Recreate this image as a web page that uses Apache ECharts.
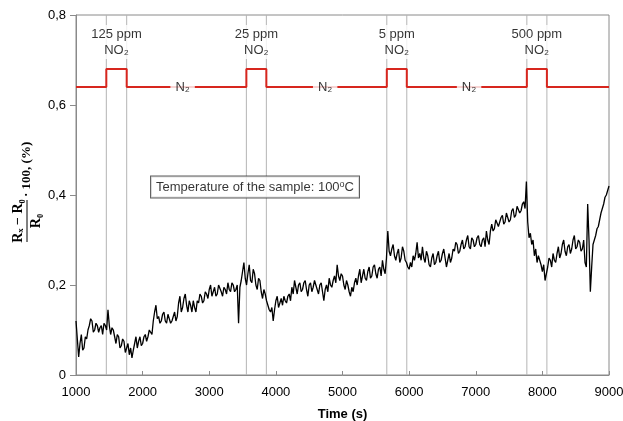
<!DOCTYPE html>
<html>
<head>
<meta charset="utf-8">
<script src="https://cdn.jsdelivr.net/npm/echarts@6/dist/echarts.min.js"></script>
<style>
  html, body { margin: 0; padding: 0; background: #fff; }
  #chart { width: 623px; height: 421px; }
</style>
</head>
<body>
<div id="chart"></div>
<script>
// time axis of the sensor trace, 20 s steps
const time = [];
for (let t = 1000; t <= 9000; t += 20) time.push(t);

// relative resistance change (%), one row per 1000 s
const signal = [
  0.12, 0.08, 0.04, 0.07, 0.09, 0.055, 0.06, 0.085, 0.08, 0.1, 0.11, 0.125, 0.12, 0.095, 0.10, 0.115, 0.11, 0.095, 0.105, 0.11, 0.09, 0.115, 0.11, 0.1, 0.145, 0.11, 0.09, 0.105, 0.10, 0.085, 0.07, 0.09, 0.085, 0.06, 0.065, 0.08, 0.075, 0.05, 0.06, 0.07, 0.045, 0.06, 0.038, 0.055, 0.07, 0.085, 0.06, 0.075, 0.085, 0.065,
  0.07, 0.085, 0.09, 0.075, 0.085, 0.1, 0.10, 0.09, 0.12, 0.14, 0.155, 0.125, 0.13, 0.115, 0.12, 0.135, 0.14, 0.12, 0.115, 0.135, 0.125, 0.115, 0.12, 0.13, 0.14, 0.12, 0.13, 0.16, 0.175, 0.14, 0.15, 0.17, 0.18, 0.155, 0.14, 0.165, 0.155, 0.14, 0.165, 0.15, 0.14, 0.165, 0.16, 0.18, 0.175, 0.16, 0.165, 0.185, 0.18, 0.17,
  0.19, 0.2, 0.175, 0.185, 0.195, 0.175, 0.18, 0.2, 0.20, 0.185, 0.175, 0.195, 0.19, 0.18, 0.205, 0.19, 0.185, 0.205, 0.20, 0.185, 0.19, 0.2, 0.115, 0.195, 0.21, 0.23, 0.25, 0.215, 0.20, 0.225, 0.245, 0.21, 0.205, 0.235, 0.225, 0.2, 0.19, 0.215, 0.21, 0.185, 0.17, 0.19, 0.18, 0.165, 0.155, 0.145, 0.14, 0.15, 0.12, 0.145,
  0.165, 0.175, 0.15, 0.16, 0.17, 0.155, 0.175, 0.165, 0.16, 0.175, 0.18, 0.165, 0.195, 0.18, 0.21, 0.195, 0.18, 0.2, 0.205, 0.185, 0.19, 0.205, 0.21, 0.19, 0.175, 0.2, 0.205, 0.185, 0.195, 0.21, 0.21, 0.19, 0.18, 0.2, 0.205, 0.185, 0.165, 0.19, 0.20, 0.185, 0.215, 0.2, 0.195, 0.21, 0.22, 0.205, 0.245, 0.22, 0.21, 0.225,
  0.22, 0.2, 0.19, 0.21, 0.20, 0.185, 0.175, 0.195, 0.185, 0.205, 0.215, 0.2, 0.22, 0.235, 0.205, 0.22, 0.235, 0.215, 0.21, 0.23, 0.24, 0.215, 0.22, 0.24, 0.245, 0.225, 0.215, 0.235, 0.24, 0.22, 0.255, 0.235, 0.225, 0.26, 0.32, 0.275, 0.265, 0.28, 0.29, 0.265, 0.255, 0.27, 0.28, 0.25, 0.26, 0.285, 0.275, 0.255, 0.25, 0.24,
  0.235, 0.25, 0.24, 0.265, 0.255, 0.27, 0.295, 0.26, 0.27, 0.255, 0.285, 0.26, 0.25, 0.275, 0.265, 0.245, 0.24, 0.26, 0.27, 0.245, 0.25, 0.265, 0.275, 0.25, 0.255, 0.27, 0.28, 0.26, 0.24, 0.255, 0.27, 0.25, 0.26, 0.28, 0.275, 0.295, 0.29, 0.27, 0.275, 0.29, 0.30, 0.28, 0.285, 0.3, 0.31, 0.285, 0.28, 0.305, 0.30, 0.285,
  0.29, 0.305, 0.31, 0.29, 0.285, 0.3, 0.305, 0.285, 0.32, 0.3, 0.29, 0.32, 0.335, 0.32, 0.325, 0.345, 0.345, 0.33, 0.33, 0.35, 0.355, 0.335, 0.34, 0.36, 0.36, 0.34, 0.345, 0.365, 0.37, 0.35, 0.355, 0.375, 0.375, 0.36, 0.365, 0.38, 0.385, 0.37, 0.43, 0.34, 0.305, 0.315, 0.29, 0.3, 0.265, 0.28, 0.25, 0.265, 0.255, 0.245,
  0.23, 0.245, 0.21, 0.225, 0.24, 0.26, 0.255, 0.24, 0.27, 0.255, 0.25, 0.27, 0.285, 0.26, 0.27, 0.29, 0.30, 0.275, 0.265, 0.285, 0.29, 0.27, 0.28, 0.3, 0.31, 0.28, 0.285, 0.3, 0.295, 0.275, 0.28, 0.3, 0.25, 0.24, 0.38, 0.3, 0.185, 0.24, 0.29, 0.3, 0.31, 0.325, 0.33, 0.345, 0.36, 0.37, 0.38, 0.395, 0.40, 0.41,
  0.42
];

// gas switching: NO2 pulses over an N2 baseline
const pulseStart = [1455, 3557, 5665, 7767];
const pulseEnd = [1761, 3857, 5965, 8068];
const concentrations = ["125 ppm", "25 ppm", "5 ppm", "500 ppm"];
const flowBase = 0.64;
const flowHigh = 0.68;
const n2Labels = [2600, 4740, 6900];

const flowData = [[1000, flowBase]];
pulseStart.forEach((s, i) => {
  flowData.push([s, flowBase], [s, flowHigh], [pulseEnd[i], flowHigh], [pulseEnd[i], flowBase]);
});
flowData.push([9000, flowBase]);

// gray guide lines at each switching time, broken apart with "-"
const guideData = [];
pulseStart.concat(pulseEnd).forEach((x) => {
  guideData.push([x, 0], [x, 0.8], "-");
});

const font = "Liberation Sans, Arial, sans-serif";
const textColor = "#000";

const chart = echarts.init(document.getElementById("chart"), null, { renderer: "canvas" });

chart.setOption({
  animation: false,
  backgroundColor: "#fff",
  grid: {
    left: 76, right: 14, top: 15, bottom: 46,
    containLabel: false, outerBoundsMode: "none",
    show: true, borderColor: "#8a8a8a", borderWidth: 1,
  },
  xAxis: {
    type: "value",
    min: 1000,
    max: 9000,
    interval: 1000,
    name: "Time (s)",
    nameLocation: "middle",
    nameGap: 33,
    nameTextStyle: { fontFamily: font, fontSize: 13, fontWeight: "bold", color: textColor },
    axisLine: { lineStyle: { color: "#8a8a8a" } },
    axisTick: { inside: true, length: 4, lineStyle: { color: "#8a8a8a" } },
    axisLabel: { fontFamily: font, fontSize: 13, color: textColor, margin: 11, formatter: (v) => String(v) },
    splitLine: { show: false },
  },
  yAxis: {
    type: "value",
    min: 0,
    max: 0.8,
    interval: 0.2,
    axisLine: { show: true, lineStyle: { color: "#8a8a8a" } },
    axisTick: { show: true, length: 6, lineStyle: { color: "#8a8a8a" } },
    axisLabel: {
      fontFamily: font,
      fontSize: 13,
      color: textColor,
      margin: 10,
      formatter: (v) => (v === 0 ? "0" : v.toFixed(1).replace(".", ",")),
    },
    splitLine: { show: false },
  },
  series: [
    {
      name: "guides",
      type: "line",
      z: 1,
      silent: true,
      symbol: "none",
      connectNulls: false,
      data: guideData,
      lineStyle: { color: "#b4b4b4", width: 1 },
    },
    {
      name: "signal",
      type: "line",
      z: 2,
      symbol: "none",
      data: time.map((t, i) => [t, signal[i]]),
      lineStyle: { color: "#000", width: 1.3 },
    },
    {
      name: "flow",
      type: "line",
      z: 3,
      symbol: "none",
      data: flowData,
      lineStyle: { color: "#d7261e", width: 2 },
    },
    {
      name: "n2",
      type: "scatter",
      z: 5,
      symbolSize: 0,
      data: n2Labels.map((x) => [x, flowBase]),
      label: {
        show: true,
        position: "inside",
        formatter: "N₂",
        fontFamily: font,
        fontSize: 13,
        color: textColor,
        textBorderWidth: 0,
        backgroundColor: "#fff",
        padding: [2, 5],
      },
    },
    {
      name: "gas",
      type: "scatter",
      z: 5,
      symbolSize: 0,
      data: pulseStart.map((s, i) => [(s + pulseEnd[i]) / 2, 0.74]),
      label: {
        show: true,
        position: "inside",
        formatter: (p) => concentrations[p.dataIndex] + "\nNO₂",
        fontFamily: font,
        fontSize: 13,
        lineHeight: 16,
        color: textColor,
        textBorderWidth: 0,
        backgroundColor: "#fff",
        padding: [1, 2],
      },
    },
    {
      name: "note",
      type: "scatter",
      z: 5,
      symbolSize: 0,
      data: [[3687, 0.418]],
      label: {
        show: true,
        position: "inside",
        formatter: "{a|Temperature of the sample: 100}{s|o}{a|C}",
        backgroundColor: "#fff",
        borderColor: "#333",
        borderWidth: 1,
        padding: [4, 5, 3, 5],
        textBorderWidth: 0,
        rich: {
          a: { fontFamily: font, fontSize: 13, color: textColor, lineHeight: 14, textBorderWidth: 0 },
          s: { fontFamily: font, fontSize: 9, color: textColor, verticalAlign: "top", lineHeight: 14, padding: [0, 0, 6, 0], textBorderWidth: 0 },
        },
      },
    },
  ],
  graphic: [
    {
      type: "group",
      x: 27,
      y: 242,
      rotation: Math.PI / 2,
      children: [
        {
          type: "text",
          x: 21,
          y: -9,
          style: { text: "Rₓ − R₀", font: "bold 14px 'Liberation Serif', serif", fill: textColor, align: "center", verticalAlign: "middle" },
        },
        {
          type: "line",
          shape: { x1: 0, y1: 0, x2: 42, y2: 0 },
          style: { stroke: textColor, lineWidth: 1 },
        },
        {
          type: "text",
          x: 21,
          y: 9,
          style: { text: "R₀", font: "bold 14px 'Liberation Serif', serif", fill: textColor, align: "center", verticalAlign: "middle" },
        },
        {
          type: "text",
          x: 45,
          y: 0,
          style: { text: "· 100, (%)", font: "bold 13px 'Liberation Serif', serif", fill: textColor, align: "left", verticalAlign: "middle" },
        },
      ],
    },
  ],
});
</script>
</body>
</html>
